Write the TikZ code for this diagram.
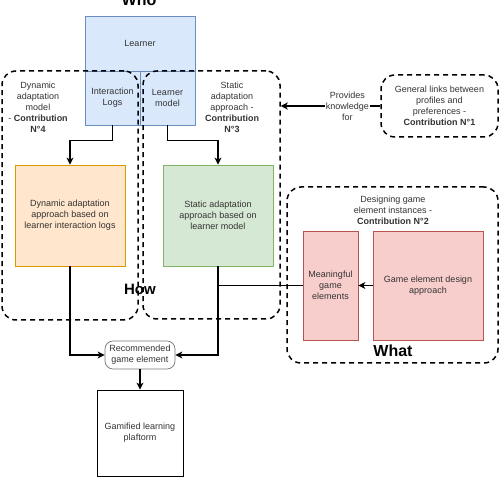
\documentclass[tikz,border=0pt]{standalone}
\usepackage{fontspec}
\setmainfont{Liberation Sans}
\usetikzlibrary{arrows.meta}

\tikzset{every picture/.style={line width=0.75pt}}
\tikzset{
  box/.style={draw, rectangle, inner sep=2pt, align=center, text={rgb,255:red,51;green,51;blue,51}, font=\fontsize{9}{11}\selectfont},
  bluebox/.style={box, draw={rgb,255:red,108;green,142;blue,191}, fill={rgb,255:red,218;green,232;blue,252}},
  orangebox/.style={box, draw={rgb,255:red,215;green,155;blue,0}, fill={rgb,255:red,255;green,230;blue,204}},
  greenbox/.style={box, draw={rgb,255:red,130;green,179;blue,102}, fill={rgb,255:red,213;green,232;blue,212}},
  redbox/.style={box, draw={rgb,255:red,184;green,84;blue,80}, fill={rgb,255:red,248;green,206;blue,204}},
  group/.style={draw, rectangle, rounded corners=14pt, line width=1.5pt, dash pattern={on 5pt off 4pt}},
  txt/.style={inner sep=1pt, align=center, text={rgb,255:red,51;green,51;blue,51}, font=\fontsize{9}{11}\selectfont},
  bigtxt/.style={inner sep=0pt, font=\fontsize{16}{18}\selectfont\bfseries},
  arr/.style={line width=1.5pt, -{Stealth[length=7pt,width=7pt,inset=2pt]}}
}

\begin{document}
\begin{tikzpicture}[x=1pt,y=1pt,yscale=-1,xscale=1]
\useasboundingbox (0,0) rectangle (504,478);

% Text Node
\node [bigtxt, anchor=base] (who) at (139,6) {Who};

%Shape: Rectangle
\node [bluebox, minimum width=110, minimum height=55] (learner) at (140,43.5) {Learner};
%Shape: Rectangle
\node [bluebox, minimum width=55, minimum height=54] (logs) at (112.5,98) {Interaction\\Logs};
%Shape: Rectangle
\node [bluebox, minimum width=55, minimum height=54] (lmodel) at (167.5,98) {Learner\\model};

%Shape: Rounded Rect dashed
\node [group, minimum width=136, minimum height=249] (dyn) at (70,195.5) {};
%Shape: Rounded Rect dashed
\node [group, minimum width=137, minimum height=248] (stat) at (211.5,195) {};
%Shape: Rounded Rect dashed
\node [group, minimum width=117, minimum height=62] (general) at (439.5,106) {};
%Shape: Rounded Rect dashed
\node [group, minimum width=211, minimum height=176] (what) at (392.5,275) {};

% Text Node
\node [txt, anchor=north] (dyntitle) at (38,81) {Dynamic\\adaptation\\model\\- \textbf{Contribution}\\\textbf{N°4}};
% Text Node
\node [txt, anchor=north] (stattitle) at (232,81) {Static\\adaptation\\approach -\\\textbf{Contribution}\\\textbf{N°3}};
% Text Node
\node [txt] (gentitle) at (439.5,106) {General links between\\profiles and\\preferences -\\\textbf{Contribution N°1}};
% Text Node
\node [txt, anchor=north] (whattitle) at (393,195) {Designing game\\element instances -\\\textbf{Contribution N°2}};
% Text Node
\node [bigtxt, font=\fontsize{15}{18}\selectfont\bfseries, anchor=base] (how) at (140,295) {How};
% Text Node
\node [bigtxt, anchor=base] (whatlbl) at (393,357) {What};

%Shape: Rectangle
\node [orangebox, minimum width=110, minimum height=101] (dynapp) at (70,215.5) {Dynamic adaptation\\approach based on\\learner interaction logs};
%Shape: Rectangle
\node [greenbox, minimum width=110, minimum height=101] (statapp) at (218,215.5) {Static adaptation\\approach based on\\learner model};
%Shape: Rectangle
\node [redbox, minimum width=55, minimum height=109] (mean) at (330.5,285.5) {Meaningful\\game\\elements};
%Shape: Rectangle
\node [redbox, minimum width=110, minimum height=109] (design) at (428,285.5) {Game element design\\approach};
%Shape: Rounded Rect
\node [box, draw={rgb,255:red,120;green,120;blue,120}, rounded corners=8pt, minimum width=70, minimum height=28] (rec) at (140,355) {Recommended\\game element};
%Shape: Rectangle
\node [box, draw=black, minimum width=86, minimum height=86] (gam) at (140,433) {Gamified learning\\plaftorm};

%Connectors
\draw [arr] (logs.south) -- ++(0,15) -| (dynapp.north);
\draw [arr] (lmodel.south) -- ++(0,15) -| (statapp.north);
\draw [arr] (general.west) -- node [txt, fill=white, pos=0.33] (provides) {Provides\\knowledge\\for} (general.west -| stat.east);
\draw [arr] (design.west) -- (mean.east);
\draw [line width=1.5pt] (mean.west) -- (mean.west -| statapp.south);
\draw [arr] (dynapp.south) |- (rec.west);
\draw [arr] (statapp.south) |- (rec.east);
\draw [arr] (rec.south) -- (gam.north);

\end{tikzpicture}
\end{document}
